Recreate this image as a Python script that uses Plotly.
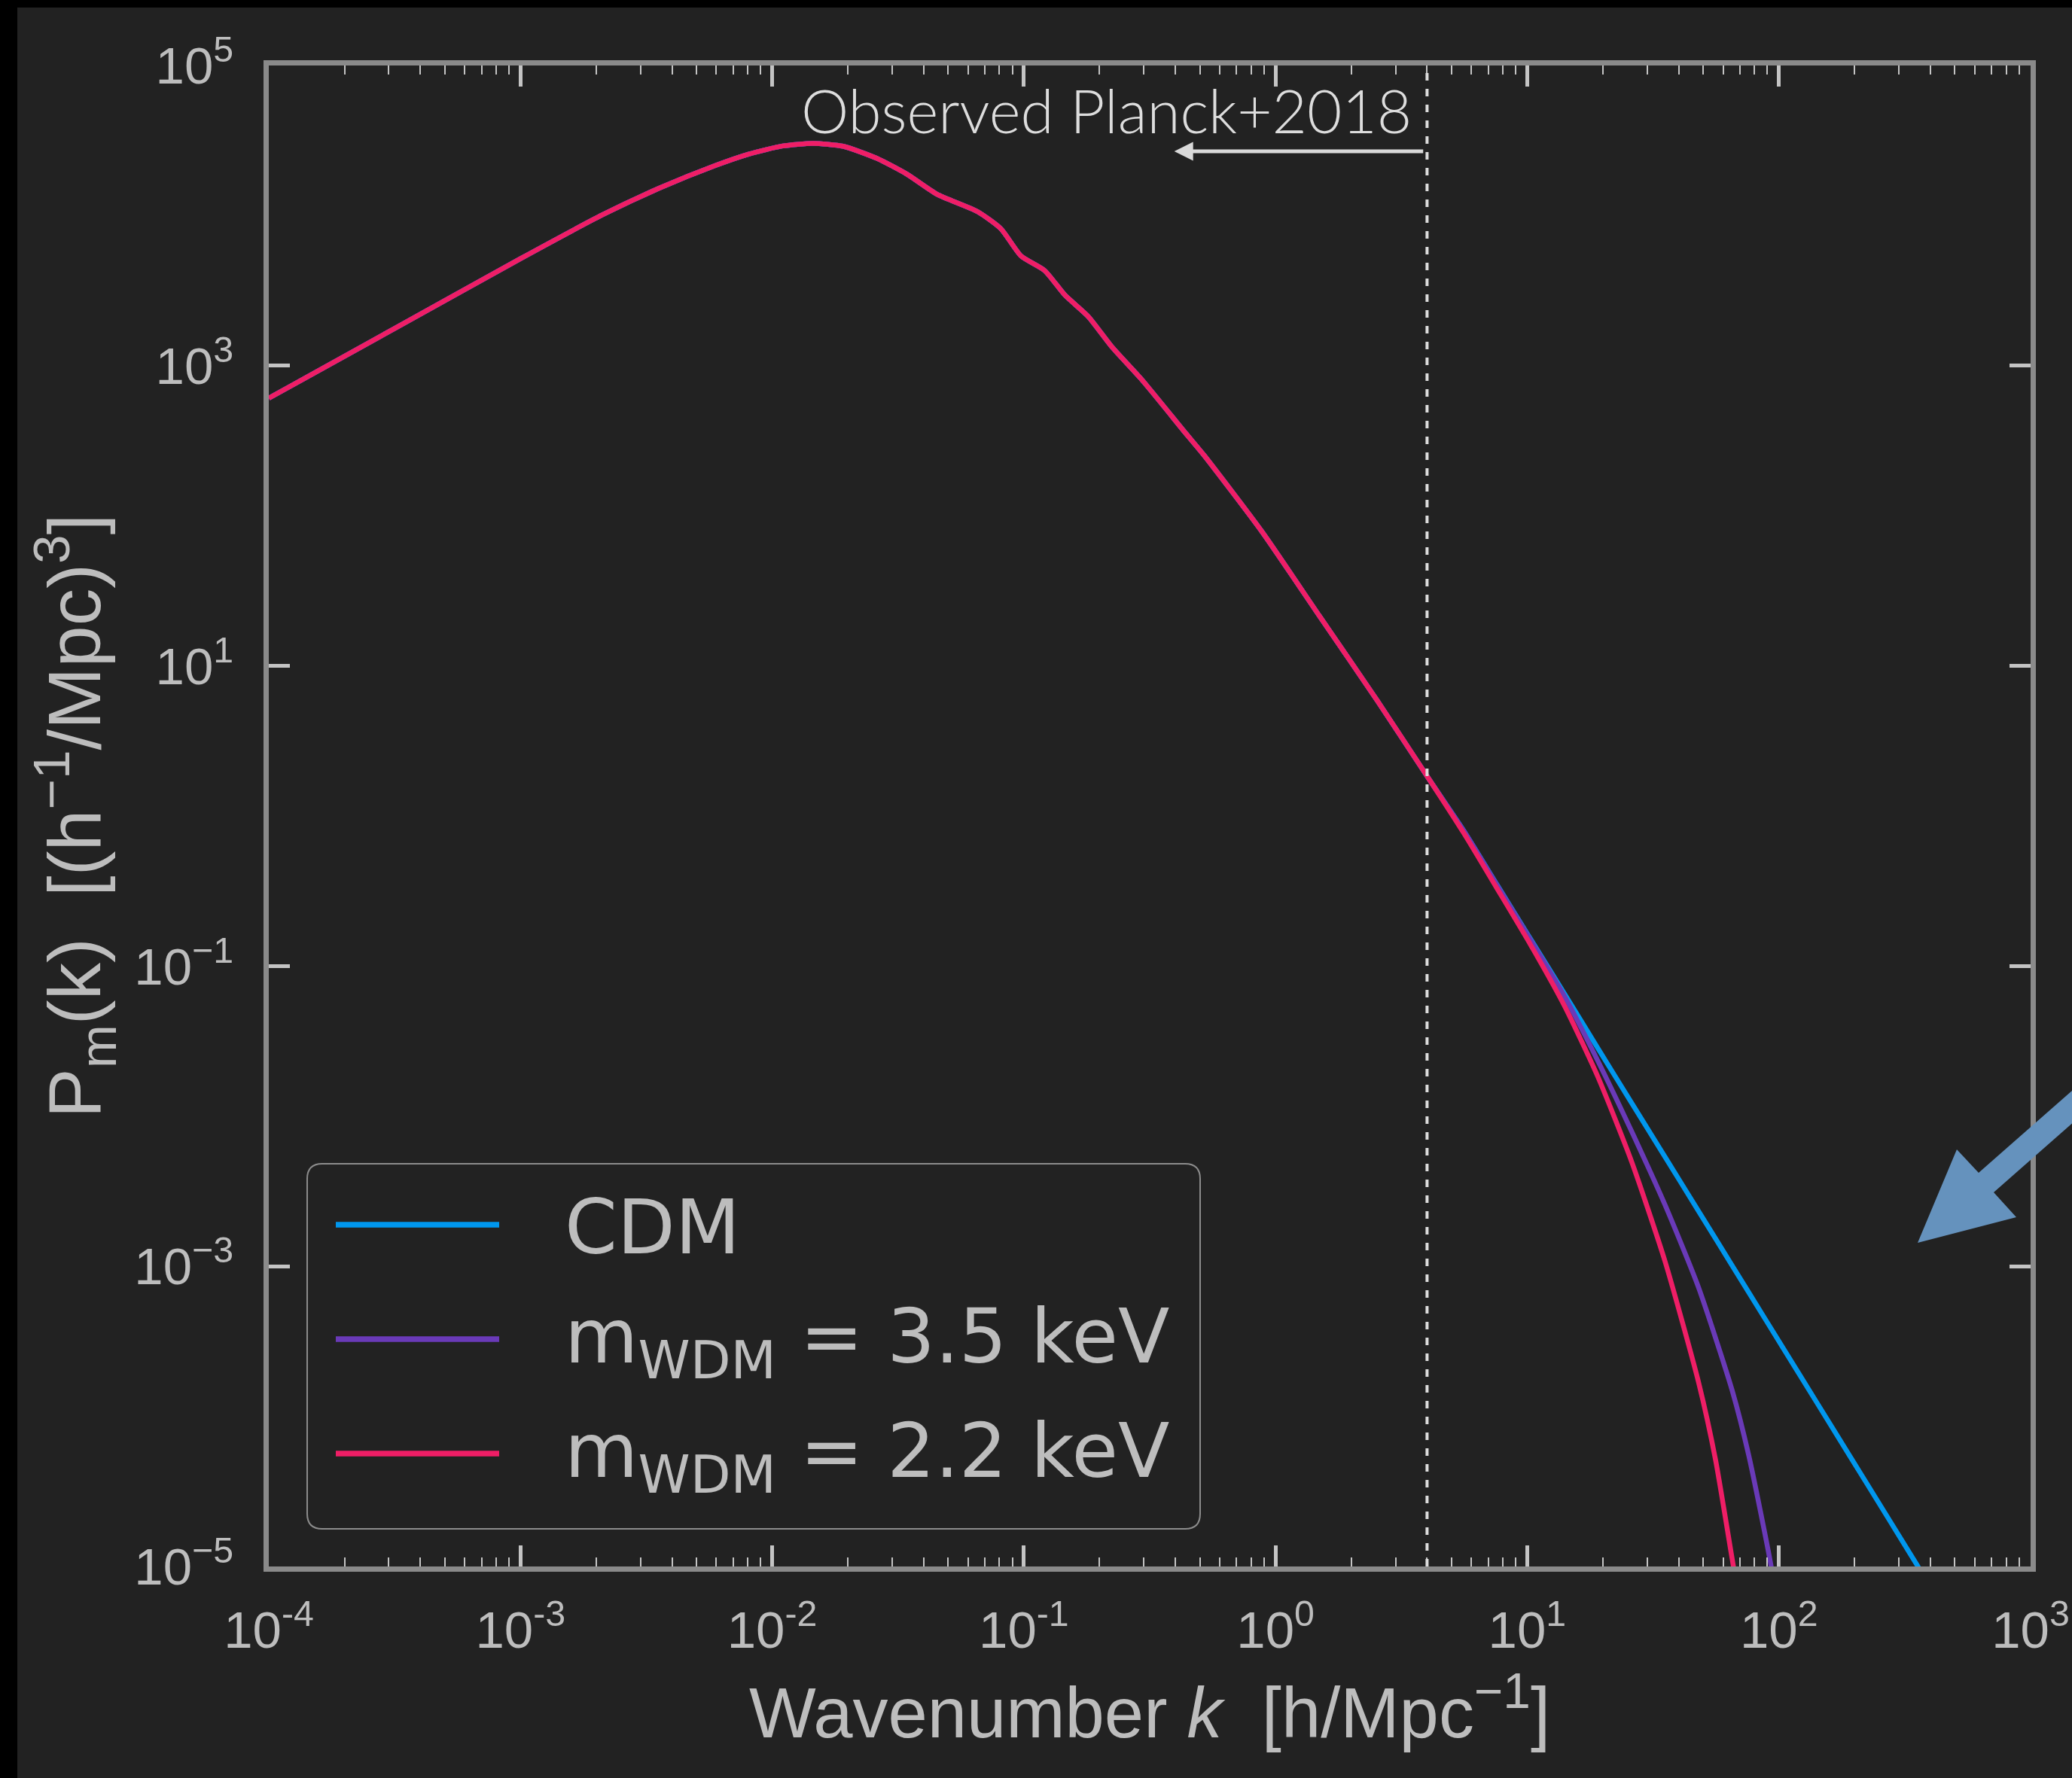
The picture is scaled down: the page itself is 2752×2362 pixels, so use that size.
import math
import plotly.graph_objects as go

# ---------------- data ----------------
# shared low-k part of the matter power spectrum (all three models coincide here)
k_low = [1.0e-4, 3.162e-4, 1.0e-3, 2.122e-3, 3.556e-3, 5.957e-3, 8.094e-3, 1.101e-2,
         1.452e-2, 1.913e-2, 2.603e-2, 3.431e-2, 4.522e-2, 6.538e-2, 8.111e-2, 9.754e-2,
         0.1209, 0.1454, 0.1802, 0.2235, 0.2946, 0.4392, 0.5216, 0.8831, 1.495, 2.532, 4.07]
P_low = [607, 1770, 5164, 1.014e4, 1.521e4, 2.158e4, 2.572e4, 2.910e4,
         3.029e4, 2.899e4, 2.408e4, 1.888e4, 1.386e4, 1.064e4, 8166, 5374,
         4306, 2960, 2127, 1338, 805.4, 355.4, 251.4, 78.4, 21.48, 5.890, 1.764]

# high-k tails
k_cdm = [5.587, 7.596, 10.33, 14.05, 19.10, 25.97, 35.30, 48.00, 65.26, 88.72, 120.6,
         164.0, 222.9, 353.5, 400.0]
P_cdm = [0.80, 0.3475, 0.151, 0.06561, 0.0283, 0.01227, 5.346e-3, 2.323e-3, 1.009e-3,
         4.385e-4, 1.905e-4, 8.279e-5, 3.597e-5, 1.026e-5, 7.3e-6]

k_w35 = [5.587, 7.596, 10.33, 14.05, 19.10, 25.97, 35.30, 48.00, 65.26, 76.08, 92.9, 100.0]
P_w35 = [0.80, 0.3443, 0.1486, 0.0631, 0.02328, 7.943e-3, 2.559e-3, 7.178e-4, 1.483e-4,
         5.395e-5, 1.026e-5, 4.47e-6]

k_w22 = [5.587, 7.596, 10.33, 14.05, 19.10, 25.97, 35.30, 48.00, 55.96, 65.26, 72.4]
P_w22 = [0.7727, 0.3281, 0.1380, 0.05445, 0.01824, 5.000e-3, 1.076e-3, 1.675e-4,
         5.176e-5, 1.114e-5, 3.98e-6]

series_names = ["CDM", "m<sub>WDM</sub> = 3.5 keV", "m<sub>WDM</sub> = 2.2 keV"]
series_colors = ["#0097EE", "#6A3AB8", "#EF1E66"]

x_tickvals = [1e-4, 1e-3, 1e-2, 1e-1, 1e0, 1e1, 1e2, 1e3]
x_ticktext = ["10<sup>-4</sup>", "10<sup>-3</sup>", "10<sup>-2</sup>", "10<sup>-1</sup>",
              "10<sup>0</sup>", "10<sup>1</sup>", "10<sup>2</sup>", "10<sup>3</sup>"]
y_tickvals = [1e-5, 1e-3, 1e-1, 1e1, 1e3, 1e5]
y_ticktext = ["10<sup>\u22125</sup>", "10<sup>\u22123</sup>", "10<sup>\u22121</sup>",
              "10<sup>1</sup>", "10<sup>3</sup>", "10<sup>5</sup>"]

planck_k = 4.0
planck_label = "Observed Planck+2018"
arrow_tip_k, arrow_tail_k, arrow_P = 0.396, 3.9, 2.68e4

# ---------------- layout geometry ----------------
W, H = 2752, 2362
ML, MR, MT, MB = 357, 55, 87, 281
PW, PH = W - ML - MR, H - MT - MB


def px(xp):
    return (xp - ML) / PW


def py(yp):
    return 1 - (yp - MT) / PH


TXT = "#bdbdbd"
AXC = "#8a8a8a"
TICKC = "#c4c4c4"

fig = go.Figure()
curves = [
    (k_low + k_cdm, P_low + P_cdm),
    (k_low + k_w35, P_low + P_w35),
    (k_low + k_w22, P_low + P_w22),
]
for (kk, pp), name, col in zip(curves, series_names, series_colors):
    fig.add_trace(go.Scatter(x=kk, y=pp, mode="lines", name=name, showlegend=False,
                             line=dict(color=col, width=6.5, shape="spline", smoothing=0.6)))

shapes = []
# black strips of the frame
shapes.append(dict(type="rect", xref="paper", yref="paper", x0=px(-5), x1=px(23),
                   y0=py(H + 5), y1=py(-5), fillcolor="black", line_width=0, layer="above"))
shapes.append(dict(type="rect", xref="paper", yref="paper", x0=px(-5), x1=px(W + 5),
                   y0=py(10), y1=py(-5), fillcolor="black", line_width=0, layer="above"))
# dashed Planck limit
shapes.append(dict(type="line", xref="x", yref="paper", x0=planck_k, x1=planck_k, y0=0, y1=1,
                   line=dict(color="#dddddd", width=4, dash="10px,11px"), layer="above"))

# big blue arrow (decoration, pixel outline)
arrow_px = [(2547, 1651), (2599, 1527), (2628, 1558), (2853, 1360), (2873, 1386),
            (2648, 1584), (2678, 1617)]
path = "M " + " L ".join(f"{px(a):.5f},{py(b):.5f}" for a, b in arrow_px) + " Z"
shapes.append(dict(type="path", xref="paper", yref="paper", path=path,
                   fillcolor="#6592BD", line_width=0, layer="above"))

# legend box (rounded)
lx0, lx1, ly0, ly1, r = 408, 1594, 1546, 2031, 20
pts = [("M", lx0 + r, ly0), ("L", lx1 - r, ly0), ("Q", lx1, ly0, lx1, ly0 + r),
       ("L", lx1, ly1 - r), ("Q", lx1, ly1, lx1 - r, ly1), ("L", lx0 + r, ly1),
       ("Q", lx0, ly1, lx0, ly1 - r), ("L", lx0, ly0 + r), ("Q", lx0, ly0, lx0 + r, ly0)]
segs = []
for p in pts:
    if p[0] == "Q":
        segs.append(f"Q {px(p[1]):.5f},{py(p[2]):.5f} {px(p[3]):.5f},{py(p[4]):.5f}")
    else:
        segs.append(f"{p[0]} {px(p[1]):.5f},{py(p[2]):.5f}")
shapes.append(dict(type="path", xref="paper", yref="paper", path=" ".join(segs) + " Z",
                   fillcolor="#222222", line=dict(color="#8c8c8c", width=2), layer="above"))

legend_rows_y = [1627, 1779, 1931]
annotations = []
for yy, name, col in zip(legend_rows_y, series_names, series_colors):
    shapes.append(dict(type="line", xref="paper", yref="paper", x0=px(446), x1=px(663),
                       y0=py(yy), y1=py(yy), line=dict(color=col, width=7.5), layer="above"))
    annotations.append(dict(xref="paper", yref="paper", x=px(748), y=py(yy + 3),
                            xanchor="left", yanchor="middle", text=name, showarrow=False,
                            font=dict(family="DejaVu Sans", size=100, color=TXT)))

# Planck label and arrow
annotations.append(dict(xref="x", yref="paper", x=math.log10(planck_k), y=py(146),
                        xanchor="right", yanchor="middle", xshift=-18, text=planck_label,
                        showarrow=False,
                        font=dict(family="Lato", size=80, color="#dddddd", weight=300)))
annotations.append(dict(xref="x", yref="y", x=math.log10(arrow_tip_k), y=math.log10(arrow_P),
                        axref="x", ayref="y", ax=math.log10(arrow_tail_k), ay=math.log10(arrow_P),
                        text="", showarrow=True, arrowhead=2, arrowsize=1, arrowwidth=5,
                        arrowcolor="#d9d9d9", standoff=0))

fig.update_layout(
    width=W, height=H, autosize=False,
    margin=dict(l=ML, r=MR, t=MT, b=MB, pad=0, autoexpand=False),
    paper_bgcolor="#222222", plot_bgcolor="#222222",
    showlegend=False,
    shapes=shapes, annotations=annotations,
    font=dict(family="Liberation Sans", color=TXT),
)
fig.update_xaxes(
    type="log", range=[-4, 3], showgrid=False, zeroline=False, automargin=False,
    showline=True, linecolor=AXC, linewidth=7, mirror="ticks",
    ticks="inside", ticklen=28, tickwidth=4.5, tickcolor=TICKC,
    tickmode="array", tickvals=x_tickvals, ticktext=x_ticktext,
    tickfont=dict(family="Liberation Sans", size=69, color=TXT), ticklabelstandoff=18,
    minor=dict(ticks="inside", ticklen=12, tickwidth=2.3, tickcolor=TICKC, dtick="D1", showgrid=False),
    title=dict(text="Wavenumber <i>k</i>\u00a0\u00a0[h/Mpc<sup>\u22121</sup>]",
               font=dict(family="Liberation Sans", size=94, color=TXT), standoff=42),
)
fig.update_yaxes(
    type="log", range=[-5, 5], showgrid=False, zeroline=False, automargin=False,
    showline=True, linecolor=AXC, linewidth=7, mirror="ticks",
    ticks="inside", ticklen=28, tickwidth=4.5, tickcolor=TICKC,
    tickmode="array", tickvals=y_tickvals, ticktext=y_ticktext,
    tickfont=dict(family="Liberation Sans", size=69, color=TXT), ticklabelstandoff=26,
    title=dict(text="P<sub>m</sub>(k)\u00a0\u00a0[(h<sup>\u22121</sup>/Mpc)<sup>3</sup>]",
               font=dict(family="Liberation Sans", size=99, color=TXT), standoff=14),
)

fig.write_html("out.html", config={"displayModeBar": False},
               post_script="document.body.style.margin='0';document.body.style.overflow='hidden';")
